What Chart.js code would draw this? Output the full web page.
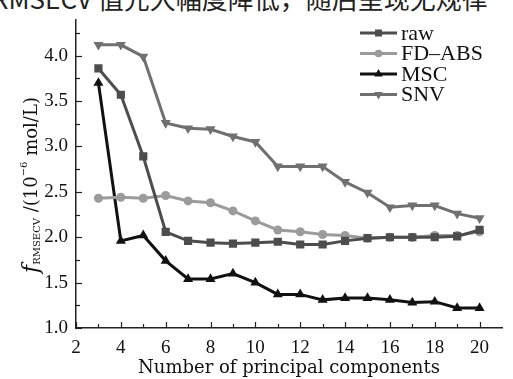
<!DOCTYPE html>
<html>
<head>
<meta charset="utf-8">
<script src="https://cdn.jsdelivr.net/npm/chart.js@4.4.1/dist/chart.umd.min.js"></script>
<style>
  html, body { margin:0; padding:0; background:#fff; width:513px; height:379px; overflow:hidden; }
  #hdr { position:absolute; left:-8px; top:-21px; white-space:nowrap; font-size:26px; font-family:"Noto Sans CJK SC"; color:#222; }
  #wrap { position:absolute; left:0; top:0; width:513px; height:379px; }
</style>
</head>
<body>
<div id="hdr">RMSECV 值先大幅度降低，随后呈现无规律</div>
<div id="wrap"><canvas id="c" width="513" height="379"></canvas></div>
<script>
// ---- data ----
const components = [3,4,5,6,7,8,9,10,11,12,13,14,15,16,17,18,19,20];
const rawValues   = [3.86,3.57,2.89,2.06,1.96,1.94,1.93,1.94,1.95,1.92,1.92,1.96,1.99,2.00,2.00,2.00,2.01,2.08];
const fdAbsValues = [2.43,2.44,2.43,2.46,2.40,2.38,2.29,2.18,2.08,2.06,2.03,2.02,1.99,2.00,2.00,2.02,2.02,2.06];
const mscValues   = [3.70,1.96,2.02,1.74,1.54,1.54,1.60,1.50,1.37,1.37,1.31,1.33,1.33,1.31,1.28,1.29,1.22,1.22];
const snvValues   = [4.12,4.12,3.99,3.26,3.20,3.19,3.11,3.05,2.78,2.78,2.78,2.61,2.49,2.33,2.35,2.35,2.26,2.21];
const seriesNames = ["raw","FD\u2013ABS","MSC","SNV"];
const xTickLabels = [2,4,6,8,10,12,14,16,18,20];
const yTickLabels = [1.0,1.5,2.0,2.5,3.0,3.5,4.0];

const FONT = "'Liberation Serif', serif";
const FONT2 = "'DejaVu Serif', serif";
const toXY = vals => components.map((c,i)=>({x:c,y:vals[i]}));

const styles = [
  {color:'#4d4d4d', pointStyle:'rect', radius:5.8, rotation:0},
  {color:'#9b9b9b', pointStyle:'circle', radius:4.5, rotation:0},
  {color:'#111111', pointStyle:'triangle', radius:5.8, rotation:0},
  {color:'#707070', pointStyle:'triangle', radius:5.8, rotation:180},
];
const allVals = [rawValues, fdAbsValues, mscValues, snvValues];

const datasets = allVals.map((v,i)=>({
  label: seriesNames[i],
  data: toXY(v),
  borderColor: styles[i].color,
  backgroundColor: styles[i].color,
  pointBackgroundColor: styles[i].color,
  pointBorderColor: styles[i].color,
  pointBorderWidth: 0,
  pointStyle: styles[i].pointStyle,
  pointRadius: styles[i].radius,
  pointRotation: styles[i].rotation,
  borderWidth: 3,
  tension: 0,
  fill: false,
}));

// inward ticks, legend and y title
const decor = {
  id:'decor',
  afterDraw(chart){
    const ctx = chart.ctx;
    const xs = chart.scales.x, ys = chart.scales.y;
    const ca = chart.chartArea;
    ctx.save();
    ctx.strokeStyle = '#222'; ctx.lineWidth = 1.2;
    for (let v=2; v<=20; v++){
      const px = Math.round(xs.getPixelForValue(v))+0.5;
      const len = (v%2===0)?6:4;
      ctx.beginPath(); ctx.moveTo(px, ca.bottom); ctx.lineTo(px, ca.bottom-len); ctx.stroke();
    }
    for (let k=0; k<=13; k++){
      const v = 1 + k*0.25;
      const py = Math.round(ys.getPixelForValue(v))+0.5;
      const len = (k%2===0)?6:4;
      ctx.beginPath(); ctx.moveTo(ca.left, py); ctx.lineTo(ca.left+len, py); ctx.stroke();
    }
    // legend
    const lx0 = 360, lx1 = 397, ty0 = 33, dy = 20.5;
    chart.data.datasets.forEach((ds,i)=>{
      const y = ty0 + i*dy;
      ctx.strokeStyle = ds.borderColor; ctx.lineWidth = 3;
      ctx.beginPath(); ctx.moveTo(lx0,y); ctx.lineTo(lx1,y); ctx.stroke();
      ctx.fillStyle = ds.borderColor;
      Chart.helpers.drawPoint(ctx, {pointStyle: ds.pointStyle, radius: ds.pointRadius*0.85, rotation: ds.pointRotation, borderWidth:0}, (lx0+lx1)/2, y);
      ctx.fillStyle = '#111';
      ctx.font = "22px " + FONT;
      ctx.textBaseline = 'middle'; ctx.textAlign = 'left';
      ctx.fillText(ds.label, 401, y+1);
    });
    // y title
    const parts = [
      {t:'f', f:"italic 22px "+FONT2, dy:0},
      {t:'RMSECV', f:"10px "+FONT2, dy:5},
      {t:' /(10', f:"18px "+FONT2, dy:0},
      {t:'\u22126', f:"10px "+FONT2, dy:-8},
      {t:' mol/L)', f:"18px "+FONT2, dy:0},
    ];
    let total = 0;
    parts.forEach(p=>{ ctx.font = p.f; p.w = ctx.measureText(p.t).width; total += p.w; });
    ctx.translate(31, 185);
    ctx.rotate(-Math.PI/2);
    ctx.fillStyle = '#111'; ctx.textBaseline = 'middle'; ctx.textAlign = 'left';
    let x = -total/2;
    parts.forEach(p=>{ ctx.font = p.f; ctx.fillText(p.t, x, p.dy+1); x += p.w; });
    ctx.restore();
  }
};

new Chart(document.getElementById('c'), {
  type:'line',
  data:{ datasets },
  options:{
    responsive:false,
    animation:false,
    layout:{ padding:{ left:0, top:11, right:11, bottom:0 } },
    plugins:{ legend:{display:false}, tooltip:{enabled:false} },
    scales:{
      x:{
        type:'linear', min:2, max:21,
        grid:{ display:false, drawTicks:false },
        border:{ display:true, color:'#222', width:1.5 },
        ticks:{ stepSize:1, autoSkip:false, maxRotation:0, padding:9, color:'#111',
          font:{ family:FONT, size:19 },
          callback:(v)=> xTickLabels.includes(v) ? String(v) : '' },
        title:{ display:true, text:'Number of principal components', color:'#111',
          font:{ family:FONT2, size:18 }, padding:{top:0, bottom:0} },
        afterFit:(s)=>{ s.height = 51; }
      },
      y:{
        type:'linear', min:1.0, max:4.4,
        grid:{ display:false, drawTicks:false },
        border:{ display:true, color:'#222', width:1.5 },
        ticks:{ stepSize:0.25, autoSkip:false, padding:8, color:'#111',
          font:{ family:FONT, size:19 },
          callback:(v)=> yTickLabels.some(t=>Math.abs(t-v)<1e-6) ? v.toFixed(1) : '' },
        afterFit:(s)=>{ s.width = 76; }
      }
    }
  },
  plugins:[decor]
});
</script>
</body>
</html>
